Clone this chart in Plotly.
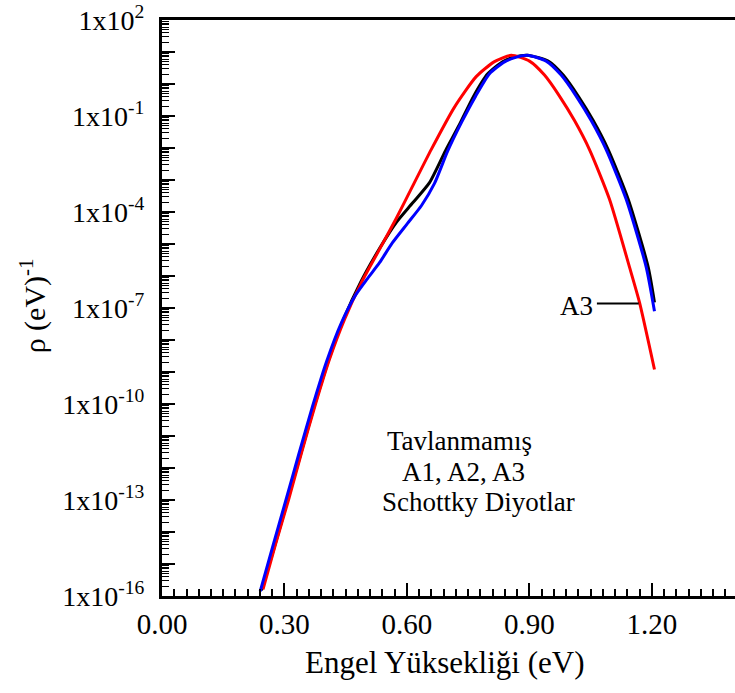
import plotly.graph_objects as go

# ---- data ----
red_x = [0.2474, 0.2780, 0.3098, 0.3417, 0.3760, 0.4102, 0.4470, 0.4886, 0.5327, 0.5736,
         0.6135, 0.6593, 0.7164, 0.7695, 0.8143, 0.8552, 0.9001, 0.9368, 0.9735, 1.0103,
         1.0470, 1.0960, 1.1450, 1.1695, 1.2062]
red_y = [1.6e-16, 4.1e-15, 1.0e-13, 3.0e-12, 1.0e-10, 2.5e-9, 4.4e-8, 6.3e-7, 6.8e-6, 6.3e-5,
         6.3e-4, 8.9e-3, 1.9e-1, 1.7e0, 5.0e0, 7.9e0, 5.2e0, 1.9e0, 4.2e-1, 7.2e-2,
         8.9e-3, 2.5e-4, 1.9e-6, 1.5e-7, 1.2e-9]

blk_x = [0.2437, 0.2755, 0.3074, 0.3392, 0.3735, 0.4078, 0.4445, 0.4862, 0.5327, 0.5736,
         0.6135, 0.6552, 0.6944, 0.7286, 0.7629, 0.7972, 0.8340, 0.8658, 0.8952, 0.9459,
         0.9826, 1.0193, 1.0561, 1.0928, 1.1418, 1.1908, 1.2062]
blk_y = [1.5e-16, 3.5e-15, 9.6e-14, 2.6e-12, 9.0e-11, 2.3e-9, 4.4e-8, 6.3e-7, 7.2e-6, 4.7e-5,
         1.9e-4, 8.3e-4, 8.3e-3, 5.4e-2, 4.1e-1, 2.05e0, 4.9e0, 7.1e0, 7.9e0, 5.2e0,
         1.9e0, 4.2e-1, 7.2e-2, 8.9e-3, 2.5e-4, 1.9e-6, 1.5e-7]

blu_x = [0.2405, 0.2706, 0.3025, 0.3343, 0.3686, 0.4029, 0.4396, 0.4739, 0.5033, 0.5327,
         0.5645, 0.6013, 0.6356, 0.6674, 0.6993, 0.7336, 0.7678, 0.8021, 0.8389, 0.8683,
         0.8952, 0.9410, 0.9777, 1.0145, 1.0512, 1.0879, 1.1369, 1.1859, 1.2062]
blu_y = [1.4e-16, 3.3e-15, 9.0e-14, 2.5e-12, 8.4e-11, 2.1e-9, 3.5e-8, 2.5e-7, 8.3e-7, 2.6e-6,
         1.1e-5, 4.4e-5, 1.6e-4, 7.8e-4, 7.8e-3, 6.3e-2, 4.1e-1, 2.1e0, 4.9e0, 6.9e0,
         7.9e0, 5.2e0, 1.9e0, 4.2e-1, 7.2e-2, 8.9e-3, 2.5e-4, 1.9e-6, 7.9e-8]

x_ticks = [0.0, 0.3, 0.6, 0.9, 1.2]
x_ticktext = ["0.00", "0.30", "0.60", "0.90", "1.20"]
y_exponents = list(range(-16, 3))
y_label_exponents = [-16, -13, -10, -7, -4, -1, 2]

FONT = "Liberation Serif, Times New Roman, serif"

fig = go.Figure()
for xs, ys, col in [(blk_x, blk_y, "black"), (red_x, red_y, "red"), (blu_x, blu_y, "blue")]:
    fig.add_trace(go.Scatter(x=xs, y=ys, mode="lines",
                             line=dict(color=col, width=3, shape="spline", smoothing=0.6),
                             showlegend=False, hoverinfo="skip"))

y_tickvals = [10.0 ** e for e in y_exponents]
y_ticktext = [("1x10<sup>%d</sup>" % e) if e in y_label_exponents else "" for e in y_exponents]
y_minor = [m * 10.0 ** e for e in y_exponents[:-1] for m in range(2, 10)]

fig.update_layout(
    width=735, height=693,
    margin=dict(l=162, r=0, t=20, b=97),
    plot_bgcolor="white", paper_bgcolor="white",
    font=dict(family=FONT, color="black", size=28),
    xaxis=dict(range=[0, 1.4034], tickmode="array", tickvals=x_ticks, ticktext=x_ticktext,
               ticks="inside", ticklen=13, tickwidth=2, tickcolor="black",
               showline=True, linewidth=3, linecolor="black", mirror=True,
               showgrid=False, zeroline=False, ticklabeloverflow="allow",
               tickfont=dict(family=FONT, size=29),
               minor=dict(dtick=0.03, tick0=0, ticks="inside", ticklen=7, tickwidth=2,
                          tickcolor="black", showgrid=False)),
    yaxis=dict(type="log", range=[-16, 2], tickmode="array", tickvals=y_tickvals,
               ticktext=y_ticktext,
               ticks="inside", ticklen=13, tickwidth=2, tickcolor="black",
               showline=True, linewidth=3, linecolor="black", mirror=False,
               showgrid=False, zeroline=False, ticklabelstandoff=9,
               ticklabeloverflow="allow",
               tickfont=dict(family=FONT, size=28),
               minor=dict(tickmode="array", tickvals=y_minor, ticks="inside", ticklen=7,
                          tickwidth=1, tickcolor="black", showgrid=False)),
)

ann = [
    dict(text="Tavlanmamış", x=0.389, y=0.269, xanchor="left"),
    dict(text="A1, A2, A3", x=0.415, y=0.215, xanchor="left"),
    dict(text="Schottky Diyotlar", x=0.380, y=0.163, xanchor="left"),
    dict(text="A3", x=0.724, y=0.503, xanchor="center"),
]
for a in ann:
    fig.add_annotation(xref="paper", yref="paper", yanchor="middle", showarrow=False,
                       font=dict(family=FONT, size=27, color="black"), **a)

fig.add_annotation(text="Engel Yüksekliği (eV)", xref="paper", yref="paper",
                   x=0.494, y=-0.1146, xanchor="center", yanchor="middle", showarrow=False,
                   font=dict(family=FONT, size=31, color="black"))
fig.add_annotation(text="ρ (eV)<sup>-1</sup>", xref="paper", yref="paper",
                   x=-0.225, y=0.503, xanchor="center", yanchor="middle", showarrow=False,
                   textangle=-90, font=dict(family=FONT, size=30, color="black"))

fig.add_shape(type="line", xref="paper", yref="paper", x0=0.759, x1=0.832, y0=0.508, y1=0.508,
              line=dict(color="black", width=2))

fig.write_html("out.html")
